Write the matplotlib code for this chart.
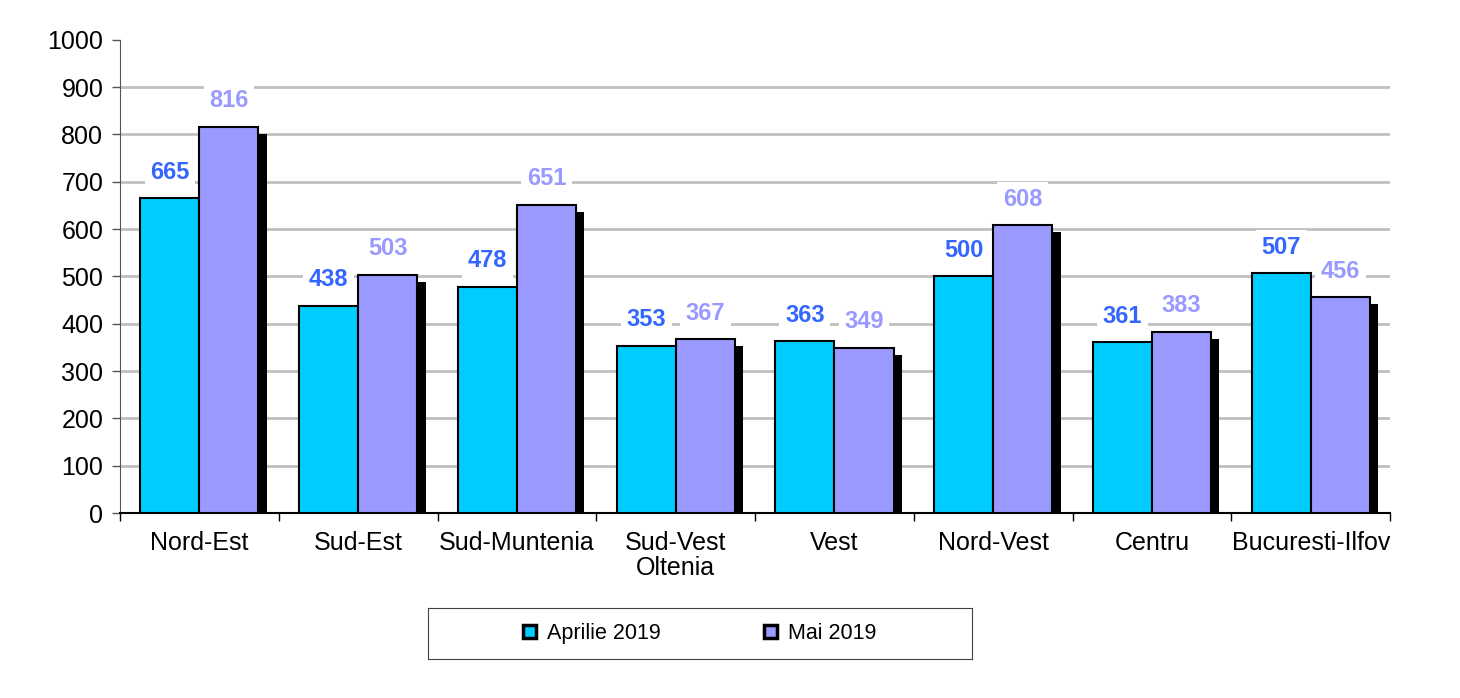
import numpy as np
import matplotlib.pyplot as plt
from matplotlib.patches import Patch
import matplotlib.patheffects as pe

regiuni = ['Nord-Est', 'Sud-Est', 'Sud-Muntenia', 'Sud-Vest\nOltenia', 'Vest',
           'Nord-Vest', 'Centru', 'Bucuresti-Ilfov']
aprilie = [665, 438, 478, 353, 363, 500, 361, 507]
mai = [816, 503, 651, 367, 349, 608, 383, 456]
serii = ['Aprilie 2019', 'Mai 2019']

plt.rcParams['font.family'] = ['Liberation Sans', 'DejaVu Sans']

col_a = '#00CCFF'
col_m = '#9999FF'
txt_a = '#3366FF'
txt_m = '#9999FF'

fig = plt.figure(figsize=(14.6, 6.98), dpi=100)
ax = fig.add_axes([0.0822, 0.265, 0.870, 0.678])

x = np.arange(len(regiuni))
w = 0.372
# umbra doar pe seria a doua (cea din fata)
shadow = [pe.SimplePatchShadow(offset=(6, -5), shadow_rgbFace='black', alpha=1.0), pe.Normal()]
ax.bar(x - w / 2, aprilie, w, color=col_a, edgecolor='black', linewidth=1.5, zorder=3)
ax.bar(x + w / 2, mai, w, color=col_m, edgecolor='black', linewidth=1.5, zorder=4,
       path_effects=shadow)

for xi, v in zip(x, aprilie):
    ax.text(xi - w / 2, v + 55, str(v), ha='center', va='center', fontsize=17,
            fontweight='bold', color=txt_a, zorder=5,
            bbox=dict(facecolor='white', edgecolor='none', pad=4))
for xi, v in zip(x, mai):
    ax.text(xi + w / 2, v + 55, str(v), ha='center', va='center', fontsize=17,
            fontweight='bold', color=txt_m, zorder=5,
            bbox=dict(facecolor='white', edgecolor='none', pad=4))

ax.set_xlim(-0.5, len(regiuni) - 0.5)
ax.set_ylim(0, 1000)
ax.set_yticks(np.arange(0, 1001, 100))
ax.tick_params(axis='y', labelsize=18, length=6, width=1, color='#555555', direction='out', pad=6)
for yv in range(100, 1000, 100):
    ax.axhline(yv, color='#C0C0C0', linewidth=2, zorder=1)

ax.set_xticks(x)
ax.set_xticklabels(regiuni, fontsize=18, linespacing=1.05)
ax.tick_params(axis='x', length=0, pad=13)
ax.set_xticks(np.arange(-0.5, len(regiuni), 1), minor=True)
ax.tick_params(axis='x', which='minor', length=6, width=1, color='black')

for s in ['top', 'right']:
    ax.spines[s].set_visible(False)
ax.spines['left'].set_color('#555555')
ax.spines['bottom'].set_color('black')
ax.spines['bottom'].set_linewidth(1.5)

leg_ax = fig.add_axes([0.293, 0.056, 0.3726, 0.073])
leg_ax.set_xticks([])
leg_ax.set_yticks([])
for s in leg_ax.spines.values():
    s.set_color('#444444')
handles = [Patch(facecolor=col_a, edgecolor='black', linewidth=2.5),
           Patch(facecolor=col_m, edgecolor='black', linewidth=2.5)]
leg_ax.legend(handles=handles, labels=serii, loc='center', ncol=2, frameon=False,
              fontsize=15.5, handlelength=0.6, handleheight=0.6, columnspacing=4.8,
              handletextpad=0.5)

fig.savefig('out.png', dpi=100)
